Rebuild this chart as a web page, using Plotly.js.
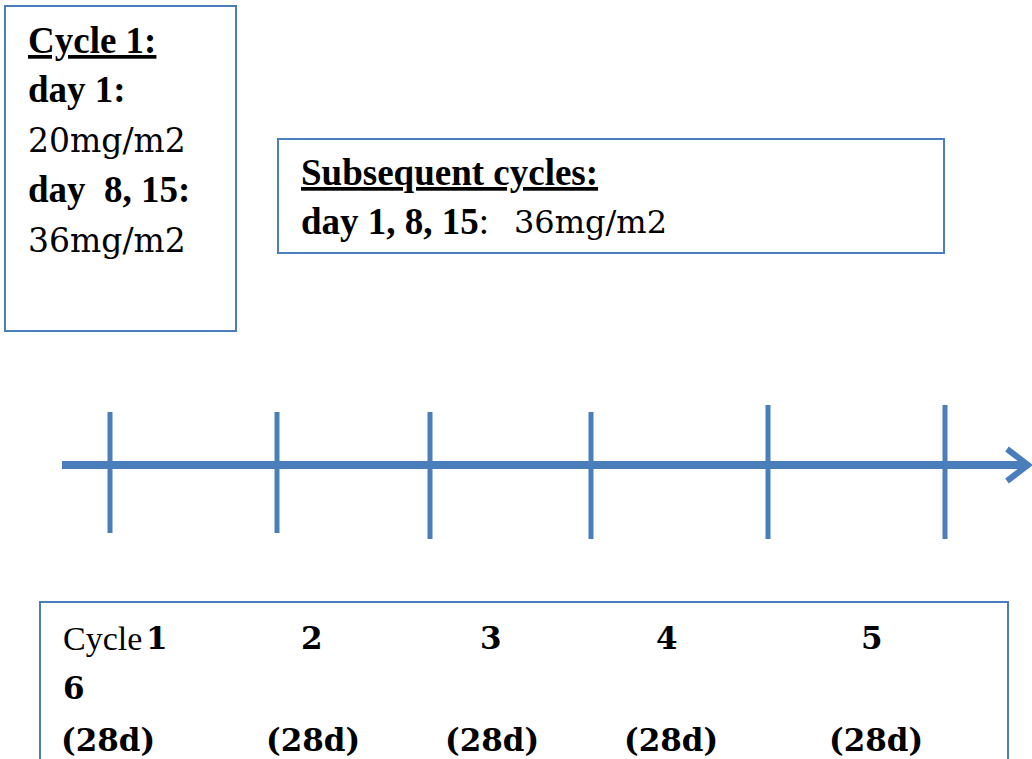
<!DOCTYPE html>
<html>
<head>
<meta charset="utf-8">
<script src="https://cdn.plot.ly/plotly-3.0.1.min.js"></script>
<style>html,body{margin:0;padding:0;background:#fff;}#chart{width:1032px;height:759px;}</style>
</head>
<body>
<div id="chart"></div>
<script>
// ---- data ----
const cycleNumbers = ['1', '2', '3', '4', '5', '6'];
const cycleDurations = ['(28d)', '(28d)', '(28d)', '(28d)', '(28d)'];
const cycleMarkX = [110, 277, 430, 591, 768, 945];
const cycleMarkTop = [412, 412, 412, 412, 405, 405];
const cycleMarkBottom = [533, 533, 539, 539, 539, 539];
const cycle1Lines = ['<b><u>Cycle 1:</u></b>', '<b>day 1:</b>', '20mg/m2', '<b>day  8, 15:</b>', '36mg/m2'];
const laterHead = '<b><u>Subsequent cycles:</u></b>';
const laterDays = '<b>day 1, 8, 15</b>:';
const laterDose = '36mg/m2';
const labelX = [157, 312, 491, 667, 872];
const durationX = [108, 313, 492, 671, 876];

const BLUE = '#4a7ebb';
const BOLDFONT = 'Liberation Serif, serif';
const NORMFONT = 'DejaVu Serif, serif';
const DIGFONT = 'DejaVu Serif, serif';

const traces = [];
// timeline axis
traces.push({x: [62, 1026], y: [465, 465], mode: 'lines', line: {color: BLUE, width: 8}, hoverinfo: 'skip'});
// arrow head
traces.push({x: [1007, 1028, 1007], y: [449, 465, 481], mode: 'lines', line: {color: BLUE, width: 6}, hoverinfo: 'skip'});
// cycle marks
const mx = [], my = [];
cycleMarkX.forEach((x, i) => { mx.push(x, x, null); my.push(cycleMarkTop[i], cycleMarkBottom[i], null); });
traces.push({x: mx, y: my, mode: 'lines', line: {color: BLUE, width: 5}, hoverinfo: 'skip'});

const shapes = [
  {type: 'rect', xref: 'x', yref: 'y', x0: 5, x1: 236, y0: 6, y1: 331, line: {color: BLUE, width: 2}},
  {type: 'rect', xref: 'x', yref: 'y', x0: 278, x1: 944, y0: 139, y1: 253, line: {color: BLUE, width: 2}},
  {type: 'rect', xref: 'x', yref: 'y', x0: 40, x1: 1008, y0: 602, y1: 790, line: {color: BLUE, width: 2}}
];

const ann = [];
function txt(x, y, t, size, family, anchor) {
  ann.push({x: x, y: y, xref: 'x', yref: 'y', text: t, showarrow: false, xanchor: anchor || 'left', yanchor: 'middle',
            font: {family: family, size: size, color: '#000'}});
}
const box1Y = [40, 89, 140, 189, 240];
cycle1Lines.forEach((t, i) => {
  const bold = t.indexOf('<b>') >= 0;
  txt(26, box1Y[i], t, bold ? 37 : 33, bold ? BOLDFONT : NORMFONT);
});
txt(299, 172, laterHead, 37, BOLDFONT);
txt(299, 221, laterDays, 37, BOLDFONT);
txt(512, 222, laterDose, 32, NORMFONT);

// bottom box
txt(61, 638, 'Cycle', 34, BOLDFONT);
cycleNumbers.slice(0, 5).forEach((n, i) => txt(labelX[i], 638, '<b>' + n + '</b>', 31, DIGFONT, 'center'));
txt(61, 688, '<b>' + cycleNumbers[5] + '</b>', 31, DIGFONT);
cycleDurations.forEach((d, i) => txt(durationX[i], 740, '<b>' + d + '</b>', 31, DIGFONT, 'center'));

const layout = {
  width: 1032, height: 759,
  margin: {l: 0, r: 0, t: 0, b: 0},
  paper_bgcolor: '#fff', plot_bgcolor: '#fff',
  showlegend: false,
  xaxis: {range: [0, 1032], visible: false, fixedrange: true},
  yaxis: {range: [759, 0], visible: false, fixedrange: true},
  shapes: shapes,
  annotations: ann
};
Plotly.newPlot('chart', traces, layout, {displayModeBar: false, staticPlot: true});
</script>
</body>
</html>
